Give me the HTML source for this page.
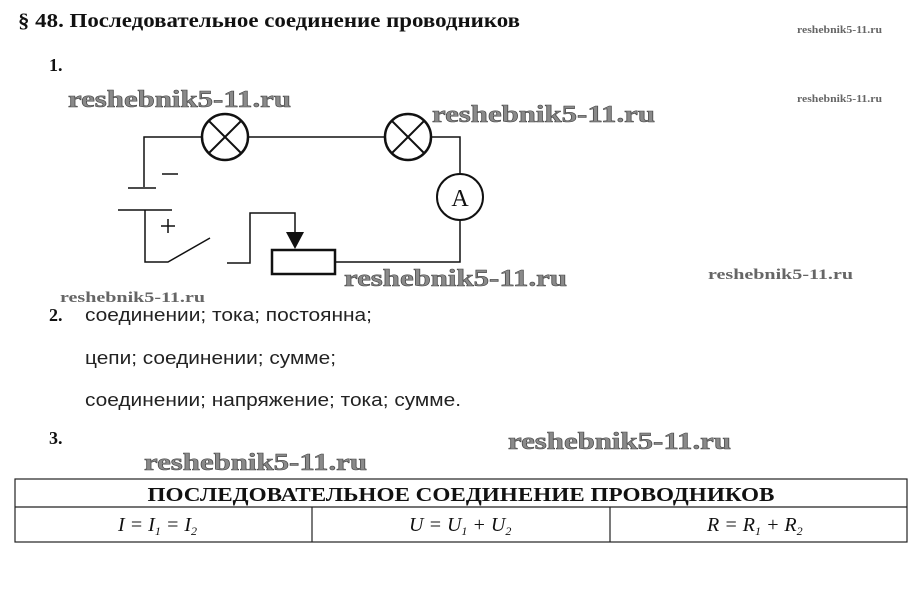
<!DOCTYPE html>
<html><head><meta charset="utf-8"><style>
html,body{margin:0;padding:0;background:#fff;}
svg{display:block;}
.wm{font-family:"Liberation Serif",serif;font-weight:bold;fill:#8a8a8a;stroke:#444;stroke-width:0.6;}
.wms{font-family:"Liberation Serif",serif;font-weight:bold;fill:#666;}
.t{font-family:"Liberation Serif",serif;fill:#111;}
.s{font-family:"Liberation Sans",sans-serif;fill:#222;font-size:18px;}
</style></head><body>
<svg width="919" height="589" viewBox="0 0 919 589" xmlns="http://www.w3.org/2000/svg">
<rect width="919" height="589" fill="#fff"/>
<text x="18" y="27" class="t" font-size="20" font-weight="bold" textLength="502" lengthAdjust="spacingAndGlyphs">§ 48. Последовательное соединение проводников</text>
<text x="797" y="33" class="wms" font-size="10" textLength="85" lengthAdjust="spacingAndGlyphs">reshebnik5-11.ru</text>
<text x="797" y="102" class="wms" font-size="10" textLength="85" lengthAdjust="spacingAndGlyphs">reshebnik5-11.ru</text>
<text x="49" y="71" class="t" font-size="18" font-weight="bold">1.</text>

<g stroke="#111" stroke-width="1.5" fill="none">
<polyline points="202,137 144,137 144,187"/>
<line x1="248" y1="137" x2="385" y2="137"/>
<polyline points="431,137 460,137 460,174"/>
<polyline points="460,220 460,262 335,262"/>
<line x1="128" y1="188" x2="156" y2="188"/>
<line x1="118" y1="210" x2="172" y2="210"/>
<polyline points="145,210 145,262 168,262 210,238"/>
<polyline points="227,263 250,263 250,213 295,213 295,232"/>
<rect x="272" y="250" width="63" height="24" stroke-width="2.5"/>
<circle cx="225" cy="137" r="23" stroke-width="2.5"/>
<line x1="209" y1="121" x2="241" y2="153" stroke-width="2"/><line x1="241" y1="121" x2="209" y2="153" stroke-width="2"/>
<circle cx="408" cy="137" r="23" stroke-width="2.5"/>
<line x1="392" y1="121" x2="424" y2="153" stroke-width="2"/><line x1="424" y1="121" x2="392" y2="153" stroke-width="2"/>
<circle cx="460" cy="197" r="23" stroke-width="2"/>
<line x1="162" y1="174" x2="178" y2="174"/>
<line x1="161" y1="226" x2="175" y2="226"/><line x1="168" y1="219" x2="168" y2="233"/>
</g>
<polygon points="286,232 304,232 295,249" fill="#111"/>
<text x="460" y="206" text-anchor="middle" class="t" font-size="24">A</text>

<text x="68" y="107" class="wm" font-size="24" textLength="223" lengthAdjust="spacingAndGlyphs">reshebnik5-11.ru</text>
<text x="432" y="122" class="wm" font-size="24" textLength="223" lengthAdjust="spacingAndGlyphs">reshebnik5-11.ru</text>
<text x="344" y="286" class="wm" font-size="24" textLength="223" lengthAdjust="spacingAndGlyphs">reshebnik5-11.ru</text>
<text x="708" y="279" class="wms" font-size="15" textLength="145" lengthAdjust="spacingAndGlyphs">reshebnik5-11.ru</text>
<text x="60" y="302" class="wms" font-size="15" textLength="145" lengthAdjust="spacingAndGlyphs">reshebnik5-11.ru</text>

<text x="49" y="321" class="t" font-size="18" font-weight="bold">2.</text>
<text x="85" y="321" class="s" textLength="287" lengthAdjust="spacingAndGlyphs">соединении; тока; постоянна;</text>
<text x="85" y="364" class="s" textLength="251" lengthAdjust="spacingAndGlyphs">цепи; соединении; сумме;</text>
<text x="85" y="406" class="s" textLength="376" lengthAdjust="spacingAndGlyphs">соединении; напряжение; тока; сумме.</text>
<text x="49" y="444" class="t" font-size="18" font-weight="bold">3.</text>
<text x="508" y="449" class="wm" font-size="24" textLength="223" lengthAdjust="spacingAndGlyphs">reshebnik5-11.ru</text>
<text x="144" y="470" class="wm" font-size="24" textLength="223" lengthAdjust="spacingAndGlyphs">reshebnik5-11.ru</text>

<g stroke="#222" stroke-width="1.2" fill="none">
<rect x="15" y="479" width="892" height="63"/>
<line x1="15" y1="507" x2="907" y2="507"/>
<line x1="312" y1="507" x2="312" y2="542"/>
<line x1="610" y1="507" x2="610" y2="542"/>
</g>
<text x="461" y="501" text-anchor="middle" class="t" font-size="20" font-weight="bold" textLength="627" lengthAdjust="spacingAndGlyphs">ПОСЛЕДОВАТЕЛЬНОЕ СОЕДИНЕНИЕ ПРОВОДНИКОВ</text>
<text x="118" y="531" class="t" font-size="20" font-style="italic">I = I<tspan font-size="12" dy="4">1</tspan><tspan dy="-4"> = I</tspan><tspan font-size="12" dy="4">2</tspan></text>
<text x="409" y="531" class="t" font-size="20" font-style="italic">U = U<tspan font-size="12" dy="4">1</tspan><tspan dy="-4"> + U</tspan><tspan font-size="12" dy="4">2</tspan></text>
<text x="707" y="531" class="t" font-size="20" font-style="italic">R = R<tspan font-size="12" dy="4">1</tspan><tspan dy="-4"> + R</tspan><tspan font-size="12" dy="4">2</tspan></text>
</svg>
</body></html>
